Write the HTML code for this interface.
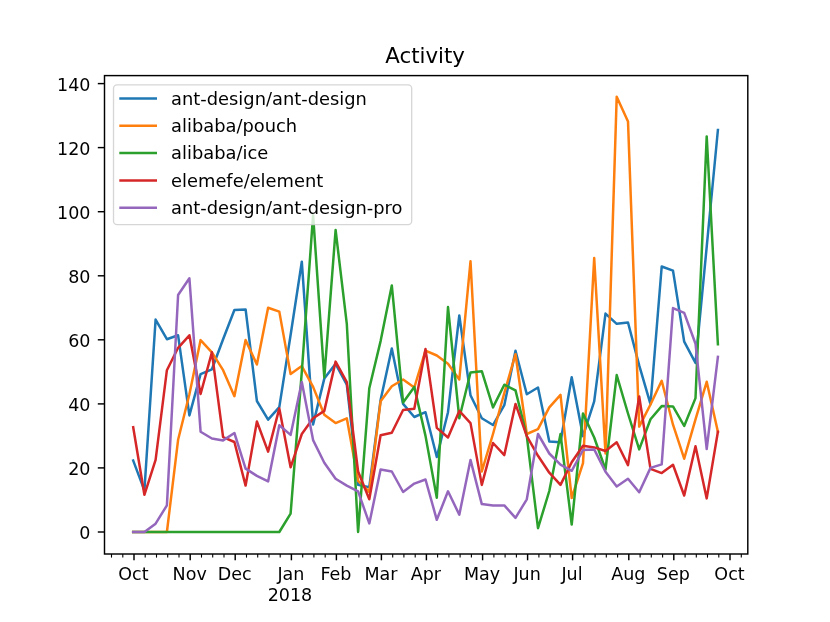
<!DOCTYPE html>
<html><head><meta charset="utf-8"><title>Activity</title>
<style>
html,body{margin:0;padding:0;background:#fff;}
body{width:830px;height:622px;overflow:hidden;}
svg{display:block;filter:blur(0.4px);}
text{font-family:"DejaVu Sans","Liberation Sans",sans-serif;fill:#000;}
.t{font-size:17.5px;}.lg{font-size:17.85px;}
</style></head><body>
<svg width="830" height="622" viewBox="0 0 830 622">
<rect width="830" height="622" fill="#fff"/>
<defs><clipPath id="c"><rect x="104.5" y="75.6" width="643.3" height="478.4"/></clipPath></defs>
<g clip-path="url(#c)" fill="none" stroke-width="2.5" stroke-linejoin="round" stroke-linecap="square">
<polyline stroke="#1f77b4" points="133.2,460.6 144.4,490.4 155.6,319.6 166.9,339.2 178.1,335.3 189.4,415.4 200.6,374.1 211.9,369.3 223.1,339.2 234.4,310.0 245.6,309.4 256.9,401.0 268.1,419.6 279.3,407.1 290.6,335.0 301.8,261.7 313.1,424.4 324.3,378.6 335.6,363.8 346.8,384.7 358.1,484.9 369.3,487.2 380.6,400.0 391.8,348.5 403.1,403.9 414.3,417.0 425.5,412.2 436.8,457.0 448.0,412.2 459.3,315.5 470.5,395.2 481.8,418.3 493.0,425.0 504.3,405.2 515.5,350.7 526.8,394.3 538.0,387.5 549.3,441.4 560.5,442.3 571.7,377.3 583.0,436.2 594.2,401.3 605.5,313.6 616.7,323.8 628.0,322.5 639.2,365.4 650.5,404.2 661.7,266.5 673.0,270.6 684.2,341.7 695.5,362.9 706.7,246.9 717.9,130.0"/>
<polyline stroke="#ff7f0e" points="133.2,532.0 144.4,532.0 155.6,532.0 166.9,532.0 178.1,439.8 189.4,394.3 200.6,340.1 211.9,352.3 223.1,370.2 234.4,396.2 245.6,340.1 256.9,364.5 268.1,307.8 279.3,311.6 290.6,374.1 301.8,366.1 313.1,386.9 324.3,414.8 335.6,423.1 346.8,418.3 358.1,480.8 369.3,492.0 380.6,401.3 391.8,386.3 403.1,379.5 414.3,387.5 425.5,350.7 436.8,355.5 448.0,363.8 459.3,379.5 470.5,261.3 481.8,471.5 493.0,434.0 504.3,393.0 515.5,354.2 526.8,434.0 538.0,429.2 549.3,407.4 560.5,394.9 571.7,498.0 583.0,463.1 594.2,258.1 605.5,453.5 616.7,96.7 628.0,121.4 639.2,426.6 650.5,404.5 661.7,380.8 673.0,424.7 684.2,458.7 695.5,419.3 706.7,381.8 717.9,431.7"/>
<polyline stroke="#2ca02c" points="133.2,532.0 144.4,532.0 155.6,532.0 166.9,532.0 178.1,532.0 189.4,532.0 200.6,532.0 211.9,532.0 223.1,532.0 234.4,532.0 245.6,532.0 256.9,532.0 268.1,532.0 279.3,532.0 290.6,513.7 301.8,371.9 313.1,215.2 324.3,377.3 335.6,230.0 346.8,323.8 358.1,532.0 369.3,388.2 380.6,341.1 391.8,285.4 403.1,402.6 414.3,386.9 425.5,435.9 436.8,497.7 448.0,307.1 459.3,418.3 470.5,372.5 481.8,371.2 493.0,407.4 504.3,384.7 515.5,390.4 526.8,436.2 538.0,528.2 549.3,491.0 560.5,434.0 571.7,524.6 583.0,413.5 594.2,437.5 605.5,469.5 616.7,375.1 628.0,413.5 639.2,449.4 650.5,419.3 661.7,406.1 673.0,406.4 684.2,426.0 695.5,398.1 706.7,136.4 717.9,344.3"/>
<polyline stroke="#d62728" points="133.2,427.3 144.4,494.8 155.6,459.9 166.9,370.2 178.1,347.8 189.4,335.3 200.6,394.0 211.9,352.3 223.1,437.2 234.4,442.0 245.6,485.6 256.9,421.5 268.1,451.6 279.3,408.4 290.6,467.3 301.8,434.0 313.1,418.3 324.3,410.9 335.6,361.6 346.8,382.1 358.1,471.5 369.3,499.3 380.6,435.3 391.8,432.7 403.1,410.0 414.3,408.7 425.5,349.1 436.8,427.9 448.0,437.5 459.3,410.9 470.5,423.1 481.8,484.9 493.0,443.0 504.3,455.1 515.5,403.9 526.8,436.2 538.0,455.8 549.3,472.7 560.5,484.9 571.7,462.2 583.0,445.8 594.2,447.4 605.5,451.0 616.7,442.3 628.0,465.1 639.2,396.5 650.5,468.9 661.7,473.1 673.0,464.7 684.2,495.5 695.5,446.2 706.7,498.4 717.9,431.7"/>
<polyline stroke="#9467bd" points="133.2,532.0 144.4,532.0 155.6,523.7 166.9,505.4 178.1,295.0 189.4,278.3 200.6,431.7 211.9,438.5 223.1,440.4 234.4,433.0 245.6,468.6 256.9,475.9 268.1,481.4 279.3,425.3 290.6,434.9 301.8,382.1 313.1,440.1 324.3,462.8 335.6,478.8 346.8,485.6 358.1,491.3 369.3,523.4 380.6,469.5 391.8,471.5 403.1,492.0 414.3,483.6 425.5,479.5 436.8,519.8 448.0,491.3 459.3,514.7 470.5,459.9 481.8,504.1 493.0,505.4 504.3,505.4 515.5,517.9 526.8,499.3 538.0,434.0 549.3,453.5 560.5,464.7 571.7,470.8 583.0,450.0 594.2,449.4 605.5,471.8 616.7,486.5 628.0,478.8 639.2,492.3 650.5,467.9 661.7,464.4 673.0,308.1 684.2,312.9 695.5,343.7 706.7,449.0 717.9,356.8"/>
</g>
<rect x="104.5" y="75.6" width="643.3" height="478.4" fill="none" stroke="#000" stroke-width="1.45"/>
<g stroke="#000" stroke-width="1.45">
<line x1="97.8" x2="104.5" y1="532.0" y2="532.0"/><line x1="97.8" x2="104.5" y1="467.9" y2="467.9"/><line x1="97.8" x2="104.5" y1="403.9" y2="403.9"/><line x1="97.8" x2="104.5" y1="339.8" y2="339.8"/><line x1="97.8" x2="104.5" y1="275.8" y2="275.8"/><line x1="97.8" x2="104.5" y1="211.7" y2="211.7"/><line x1="97.8" x2="104.5" y1="147.6" y2="147.6"/><line x1="97.8" x2="104.5" y1="83.6" y2="83.6"/>
</g>
<g stroke="#000">
<line x1="111.5" x2="111.5" y1="554.0" y2="557.6" stroke-width="1.1"/><line x1="122.8" x2="122.8" y1="554.0" y2="557.6" stroke-width="1.1"/><line x1="134.0" x2="134.0" y1="554.0" y2="560.3" stroke-width="1.45"/><line x1="145.2" x2="145.2" y1="554.0" y2="557.6" stroke-width="1.1"/><line x1="156.5" x2="156.5" y1="554.0" y2="557.6" stroke-width="1.1"/><line x1="167.7" x2="167.7" y1="554.0" y2="557.6" stroke-width="1.1"/><line x1="179.0" x2="179.0" y1="554.0" y2="557.6" stroke-width="1.1"/><line x1="190.2" x2="190.2" y1="554.0" y2="560.3" stroke-width="1.45"/><line x1="201.5" x2="201.5" y1="554.0" y2="557.6" stroke-width="1.1"/><line x1="212.7" x2="212.7" y1="554.0" y2="557.6" stroke-width="1.1"/><line x1="224.0" x2="224.0" y1="554.0" y2="557.6" stroke-width="1.1"/><line x1="235.2" x2="235.2" y1="554.0" y2="560.3" stroke-width="1.45"/><line x1="246.5" x2="246.5" y1="554.0" y2="557.6" stroke-width="1.1"/><line x1="257.7" x2="257.7" y1="554.0" y2="557.6" stroke-width="1.1"/><line x1="269.0" x2="269.0" y1="554.0" y2="557.6" stroke-width="1.1"/><line x1="280.2" x2="280.2" y1="554.0" y2="557.6" stroke-width="1.1"/><line x1="291.4" x2="291.4" y1="554.0" y2="560.3" stroke-width="1.45"/><line x1="302.7" x2="302.7" y1="554.0" y2="557.6" stroke-width="1.1"/><line x1="313.9" x2="313.9" y1="554.0" y2="557.6" stroke-width="1.1"/><line x1="325.2" x2="325.2" y1="554.0" y2="557.6" stroke-width="1.1"/><line x1="336.4" x2="336.4" y1="554.0" y2="560.3" stroke-width="1.45"/><line x1="347.7" x2="347.7" y1="554.0" y2="557.6" stroke-width="1.1"/><line x1="358.9" x2="358.9" y1="554.0" y2="557.6" stroke-width="1.1"/><line x1="370.2" x2="370.2" y1="554.0" y2="557.6" stroke-width="1.1"/><line x1="381.4" x2="381.4" y1="554.0" y2="560.3" stroke-width="1.45"/><line x1="392.7" x2="392.7" y1="554.0" y2="557.6" stroke-width="1.1"/><line x1="403.9" x2="403.9" y1="554.0" y2="557.6" stroke-width="1.1"/><line x1="415.2" x2="415.2" y1="554.0" y2="557.6" stroke-width="1.1"/><line x1="426.4" x2="426.4" y1="554.0" y2="560.3" stroke-width="1.45"/><line x1="437.6" x2="437.6" y1="554.0" y2="557.6" stroke-width="1.1"/><line x1="448.9" x2="448.9" y1="554.0" y2="557.6" stroke-width="1.1"/><line x1="460.1" x2="460.1" y1="554.0" y2="557.6" stroke-width="1.1"/><line x1="471.4" x2="471.4" y1="554.0" y2="557.6" stroke-width="1.1"/><line x1="482.6" x2="482.6" y1="554.0" y2="560.3" stroke-width="1.45"/><line x1="493.9" x2="493.9" y1="554.0" y2="557.6" stroke-width="1.1"/><line x1="505.1" x2="505.1" y1="554.0" y2="557.6" stroke-width="1.1"/><line x1="516.4" x2="516.4" y1="554.0" y2="557.6" stroke-width="1.1"/><line x1="527.6" x2="527.6" y1="554.0" y2="560.3" stroke-width="1.45"/><line x1="538.9" x2="538.9" y1="554.0" y2="557.6" stroke-width="1.1"/><line x1="550.1" x2="550.1" y1="554.0" y2="557.6" stroke-width="1.1"/><line x1="561.3" x2="561.3" y1="554.0" y2="557.6" stroke-width="1.1"/><line x1="572.6" x2="572.6" y1="554.0" y2="560.3" stroke-width="1.45"/><line x1="583.8" x2="583.8" y1="554.0" y2="557.6" stroke-width="1.1"/><line x1="595.1" x2="595.1" y1="554.0" y2="557.6" stroke-width="1.1"/><line x1="606.3" x2="606.3" y1="554.0" y2="557.6" stroke-width="1.1"/><line x1="617.6" x2="617.6" y1="554.0" y2="557.6" stroke-width="1.1"/><line x1="628.8" x2="628.8" y1="554.0" y2="560.3" stroke-width="1.45"/><line x1="640.1" x2="640.1" y1="554.0" y2="557.6" stroke-width="1.1"/><line x1="651.3" x2="651.3" y1="554.0" y2="557.6" stroke-width="1.1"/><line x1="662.6" x2="662.6" y1="554.0" y2="557.6" stroke-width="1.1"/><line x1="673.8" x2="673.8" y1="554.0" y2="560.3" stroke-width="1.45"/><line x1="685.1" x2="685.1" y1="554.0" y2="557.6" stroke-width="1.1"/><line x1="696.3" x2="696.3" y1="554.0" y2="557.6" stroke-width="1.1"/><line x1="707.5" x2="707.5" y1="554.0" y2="557.6" stroke-width="1.1"/><line x1="718.8" x2="718.8" y1="554.0" y2="557.6" stroke-width="1.1"/><line x1="730.0" x2="730.0" y1="554.0" y2="560.3" stroke-width="1.45"/><line x1="741.3" x2="741.3" y1="554.0" y2="557.6" stroke-width="1.1"/>
</g>
<g class="t" text-anchor="end">
<text x="90.5" y="539.3">0</text><text x="90.5" y="475.2">20</text><text x="90.5" y="411.2">40</text><text x="90.5" y="347.1">60</text><text x="90.5" y="283.1">80</text><text x="90.5" y="219.0">100</text><text x="90.5" y="154.9">120</text><text x="90.5" y="90.9">140</text>
</g>
<g class="t" text-anchor="middle">
<text x="133.4" y="580.2">Oct</text><text x="189.7" y="580.2">Nov</text><text x="234.7" y="580.2">Dec</text><text x="290.9" y="580.2">Jan</text><text x="335.9" y="580.2">Feb</text><text x="380.9" y="580.2">Mar</text><text x="425.8" y="580.2">Apr</text><text x="482.1" y="580.2">May</text><text x="527.1" y="580.2">Jun</text><text x="572.0" y="580.2">Jul</text><text x="628.3" y="580.2">Aug</text><text x="673.3" y="580.2">Sep</text><text x="729.5" y="580.2">Oct</text><text x="289.9" y="600.8">2018</text>
</g>
<text x="425.1" y="63.3" text-anchor="middle" font-size="21.3">Activity</text>
<rect x="113.5" y="84.8" width="298.2" height="139.9" rx="3.6" fill="#fff" fill-opacity="0.8" stroke="#ccc" stroke-opacity="0.8" stroke-width="1.3"/>
<line x1="119.3" x2="157.0" y1="98.5" y2="98.5" stroke="#1f77b4" stroke-width="2.5"/><text class="lg" x="171.1" y="104.8">ant-design/ant-design</text>
<line x1="119.3" x2="157.0" y1="125.8" y2="125.8" stroke="#ff7f0e" stroke-width="2.5"/><text class="lg" x="171.1" y="132.1">alibaba/pouch</text>
<line x1="119.3" x2="157.0" y1="153.1" y2="153.1" stroke="#2ca02c" stroke-width="2.5"/><text class="lg" x="171.1" y="159.4">alibaba/ice</text>
<line x1="119.3" x2="157.0" y1="180.4" y2="180.4" stroke="#d62728" stroke-width="2.5"/><text class="lg" x="171.1" y="186.7">elemefe/element</text>
<line x1="119.3" x2="157.0" y1="207.7" y2="207.7" stroke="#9467bd" stroke-width="2.5"/><text class="lg" x="171.1" y="214.0">ant-design/ant-design-pro</text>
</svg>
</body></html>
